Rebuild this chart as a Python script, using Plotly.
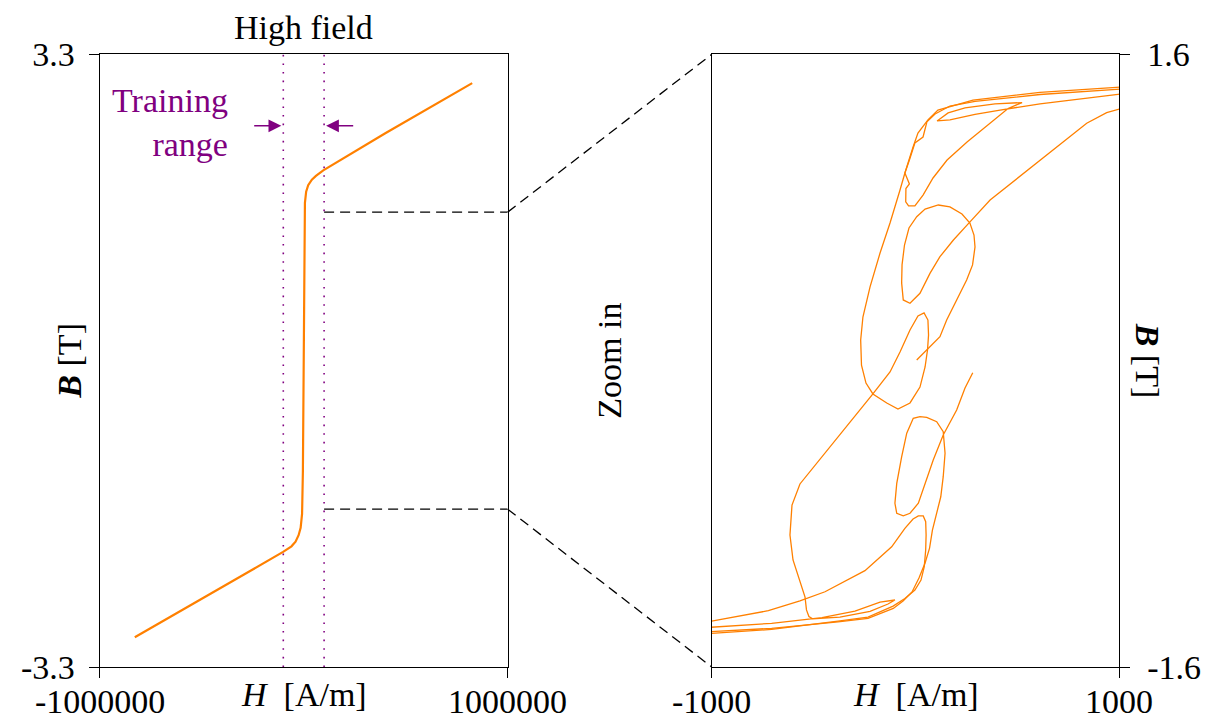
import plotly.graph_objects as go

# ---------------- data ----------------
# Left panel: high-field B-H curve  (H in A/m, B in T)
h_high = [-828000, -500000, -250000, -101000, -60000, -40000, -25000, -15000, -8000,
          -4000, 0, 3000, 6000, 12000, 22000, 40000, 60000, 96000, 400000, 826000]
b_high = [-2.98, -2.57, -2.25, -2.06, -2.00, -1.95, -1.88, -1.80, -1.65,
          -1.2, -0.3, 1.0, 1.7, 1.82, 1.89, 1.95, 1.99, 2.05, 2.45, 2.99]

# training range bounds (A/m) and zoom window
train_lo, train_hi = -100000, 100000
zoom_b = 1.6
arrow_b = 2.53
arrow_tail_lo, arrow_tail_hi = -250000, 250000

# Right panel: zoomed trajectories (H in A/m, B in T)
seg1_h = [1053, 611, 282, 110, 61, 12, -12, -37, -52, -76, -125, -174, -223, -258, -269, -265,
          -243, -209, -141, -86, -27, 22, 47, 59, 64, 61, 42, 12, -27, -76, -125, -209, -321,
          -454, -567, -606, -616, -601, -567, -542, -535, -523, -505, -371, -223, -135, -101,
          -174, -297, -459, -706, -1000, -1058]
seg1_b = [1.432, 1.401, 1.361, 1.309, 1.257, 1.189, 1.116, 1.038, 0.980, 0.891, 0.719, 0.562,
          0.385, 0.228, 0.108, -0.023, -0.117, -0.174, -0.221, -0.253, -0.221, -0.138, -0.033,
          0.056, 0.134, 0.212, 0.249, 0.233, 0.160, 0.045, -0.059, -0.174, -0.320, -0.493,
          -0.644, -0.754, -0.911, -1.041, -1.156, -1.235, -1.302, -1.336, -1.348, -1.339,
          -1.310, -1.271, -1.250, -1.261, -1.308, -1.342, -1.372, -1.393, -1.396]

seg2_h = [1028, 611, 292, 169, 96, 56, 37, -3, -30, -52, -30, -47, -48, -34, -3, 37, 86, 155,
          253, 366, 454, 523, 390, 243, 160, 106, 169, 292, 415, 611, 999, 1053]
seg2_b = [1.420, 1.390, 1.354, 1.330, 1.288, 1.247, 1.168, 1.137, 1.048, 0.980, 0.923, 0.899,
          0.829, 0.808, 0.808, 0.865, 0.954, 1.048, 1.142, 1.241, 1.317, 1.348, 1.341, 1.320,
          1.294, 1.252, 1.257, 1.286, 1.309, 1.341, 1.393, 1.398]

seg3_h = [1053, 938, 840, 676, 513, 366, 264, 186, 120, 71, 22, -27, -60, -68, -66, -54, -32,
          6, 47, 112, 169, 228, 267, 287, 292, 280, 251, 202, 153, 120, 71, 6]
seg3_b = [1.330, 1.295, 1.240, 1.100, 0.961, 0.839, 0.721, 0.630, 0.543, 0.456, 0.352, 0.300,
          0.317, 0.406, 0.500, 0.604, 0.693, 0.752, 0.792, 0.813, 0.803, 0.766, 0.719, 0.656,
          0.594, 0.500, 0.421, 0.317, 0.212, 0.125, 0.073, 0.003]

seg4_h = [281, 243, 202, 136, 87, 55, 14, -27, -60, -92, -101, -92, -68, -43, -11, 22, 55, 104,
          136, 145, 136, 124, 104, 83, 69, 47, 17, -17, -61, -109, -233, -380, -706, -1000, -1058]
seg4_b = [-0.063, -0.143, -0.258, -0.388, -0.519, -0.623, -0.745, -0.797, -0.810, -0.797,
          -0.745, -0.641, -0.502, -0.379, -0.301, -0.292, -0.296, -0.319, -0.371, -0.484,
          -0.606, -0.711, -0.791, -0.885, -0.979, -1.057, -1.135, -1.208, -1.255, -1.294,
          -1.346, -1.364, -1.398, -1.416, -1.419]

seg5_h = [-1058, -1000, -722, -567, -444, -248, -117, -52, -12, 14, 38, 50, 52, 50, 43, 27, -3,
          -52, -110, -233, -380, -706, -1000, -1058]
seg5_b = [-1.349, -1.360, -1.306, -1.255, -1.207, -1.097, -0.972, -0.876, -0.827, -0.811,
          -0.811, -0.841, -0.911, -0.989, -1.076, -1.146, -1.198, -1.242, -1.282, -1.339,
          -1.360, -1.404, -1.424, -1.427]

# axis ranges and tick labels
left_x_range = [-1000000, 1000000]
left_y_range = [-3.3, 3.3]
right_x_range = [-1000, 1000]
right_y_range = [-1.6, 1.6]
left_x_ticks = ["-1000000", "1000000"]
left_y_ticks = ["-3.3", "3.3"]
right_x_ticks = ["-1000", "1000"]
right_y_ticks = ["-1.6", "1.6"]

# ---------------- styling / layout ----------------
ORANGE = "#ff8000"
PURPLE = "#800080"
FONT = "Liberation Serif"
FS = 34
OFF = 8                      # page body margin in the browser
FW, FH = 1222 - OFF, 720 - OFF


def px_x(sx):
    return (sx - OFF) / FW


def px_y(sy):
    return 1 - (sy - OFF) / FH


dom_l = [px_x(99.7), px_x(507.7)]
dom_r = [px_x(711.7), px_x(1119.3)]
dom_y = [px_y(667.0), px_y(54.3)]


def join(*segs):
    out = []
    for i, s in enumerate(segs):
        if i:
            out.append(None)
        out.extend(s)
    return out


fig = go.Figure()
fig.add_trace(go.Scatter(x=h_high, y=b_high, mode="lines",
                         line=dict(color=ORANGE, width=2.2), xaxis="x", yaxis="y",
                         showlegend=False, hoverinfo="skip"))
fig.add_trace(go.Scatter(x=join(seg1_h, seg2_h, seg3_h, seg4_h, seg5_h),
                         y=join(seg1_b, seg2_b, seg3_b, seg4_b, seg5_b),
                         mode="lines", connectgaps=False,
                         line=dict(color=ORANGE, width=1.3), xaxis="x2", yaxis="y2",
                         showlegend=False, hoverinfo="skip"))

axis_common = dict(showline=True, linecolor="black", linewidth=1.3, mirror=True,
                   showgrid=False, zeroline=False, ticks="outside", tickcolor="black",
                   tickwidth=1.3, ticklen=10, automargin=False,
                   tickfont=dict(family=FONT, size=FS, color="black"))

fig.update_layout(
    template="none",
    width=FW, height=FH, autosize=False,
    margin=dict(l=0, r=0, t=0, b=0, pad=0),
    paper_bgcolor="white", plot_bgcolor="white",
    font=dict(family=FONT, size=FS, color="black"),
    xaxis=dict(domain=dom_l, range=left_x_range, tickvals=left_x_range,
               showticklabels=False, anchor="y", **axis_common),
    yaxis=dict(domain=dom_y, range=left_y_range, tickvals=left_y_range, ticktext=left_y_ticks,
               anchor="x", ticklabelstandoff=7, **axis_common),
    xaxis2=dict(domain=dom_r, range=right_x_range, tickvals=right_x_range,
                showticklabels=False, anchor="y2", **axis_common),
    yaxis2=dict(domain=dom_y, range=right_y_range, tickvals=right_y_range, ticktext=right_y_ticks,
                anchor="x2", side="right", ticklabelstandoff=10, **axis_common),
)

# training range dotted lines
for xv in (train_lo, train_hi):
    fig.add_shape(type="line", xref="x", yref="y", x0=xv, x1=xv,
                  y0=left_y_range[0], y1=left_y_range[1],
                  line=dict(color=PURPLE, width=1.6, dash="1.6px,7px"), layer="below")

# zoom window dashed lines in left panel
for bv in (zoom_b, -zoom_b):
    fig.add_shape(type="line", xref="x", yref="y", x0=train_hi, x1=left_x_range[1],
                  y0=bv, y1=bv, line=dict(color="black", width=1.3, dash="10px,6px"))


# connectors from left panel to right panel corners (paper coordinates)
def ypaper_left(b):
    return dom_y[0] + (b - left_y_range[0]) / (left_y_range[1] - left_y_range[0]) * (dom_y[1] - dom_y[0])


for bv, yr in ((zoom_b, dom_y[1]), (-zoom_b, dom_y[0])):
    fig.add_shape(type="line", xref="paper", yref="paper", x0=dom_l[1], x1=dom_r[0],
                  y0=ypaper_left(bv), y1=yr,
                  line=dict(color="black", width=1.3, dash="10px,6px"))

ann = []
# arrows marking training range
ann.append(dict(x=train_lo, y=arrow_b, ax=arrow_tail_lo, ay=arrow_b, xref="x", yref="y",
                axref="x", ayref="y", text="", showarrow=True, arrowhead=2, arrowsize=1.6,
                arrowwidth=1.6, arrowcolor=PURPLE, standoff=2))
ann.append(dict(x=train_hi, y=arrow_b, ax=arrow_tail_hi, ay=arrow_b, xref="x", yref="y",
                axref="x", ayref="y", text="", showarrow=True, arrowhead=2, arrowsize=1.6,
                arrowwidth=1.6, arrowcolor=PURPLE, standoff=2))
ann.append(dict(x=-361000, y=2.565, xref="x", yref="y", text="Training<br>range",
                showarrow=False, xanchor="right", yanchor="middle", align="right",
                font=dict(family=FONT, size=FS, color=PURPLE)))
ann.append(dict(x=(dom_l[0] + dom_l[1]) / 2, y=1, xref="paper", yref="paper",
                text="High field", showarrow=False, xanchor="center", yanchor="top",
                borderpad=0))

# x tick labels (placed just below the axes)
tick_y = px_y(701)
for xv, lab in zip(left_x_range, left_x_ticks):
    ann.append(dict(x=xv, y=tick_y, xref="x", yref="paper", text=lab, showarrow=False,
                    xanchor="center", yanchor="middle"))
for xv, lab in zip(right_x_range, right_x_ticks):
    ann.append(dict(x=xv, y=tick_y, xref="x2", yref="paper", text=lab, showarrow=False,
                    xanchor="center", yanchor="middle"))

ann.append(dict(x=(dom_l[0] + dom_l[1]) / 2, y=px_y(694), xref="paper", yref="paper",
                text="<i>H</i>  [A/m]", showarrow=False, xanchor="center", yanchor="middle"))
ann.append(dict(x=(dom_r[0] + dom_r[1]) / 2, y=px_y(694), xref="paper", yref="paper",
                text="<i>H</i>  [A/m]", showarrow=False, xanchor="center", yanchor="middle"))
ann.append(dict(x=px_x(610), y=(dom_y[0] + dom_y[1]) / 2, xref="paper", yref="paper",
                text="Zoom in", textangle=-90, showarrow=False, xanchor="center", yanchor="middle"))
ann.append(dict(x=px_x(70), y=(dom_y[0] + dom_y[1]) / 2, xref="paper", yref="paper",
                text="<b><i>B</i></b> [T]", textangle=-90, showarrow=False,
                xanchor="center", yanchor="middle"))
ann.append(dict(x=px_x(1147), y=(dom_y[0] + dom_y[1]) / 2, xref="paper", yref="paper",
                text="<b><i>B</i></b> [T]", textangle=90, showarrow=False,
                xanchor="center", yanchor="middle"))
fig.update_layout(annotations=ann)

fig.write_html("out.html")
